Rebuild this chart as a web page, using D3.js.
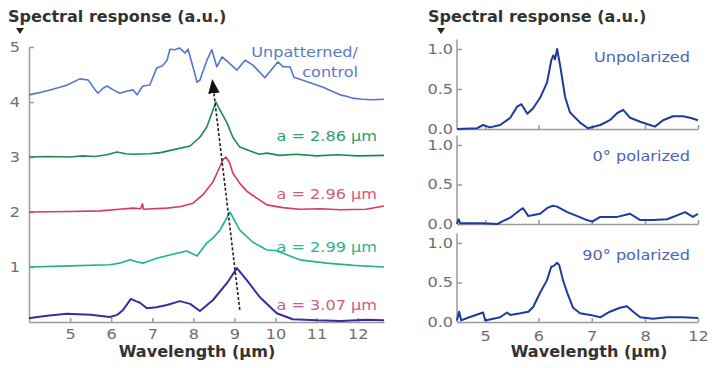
<!DOCTYPE html>
<html lang="en">
<head>
<meta charset="utf-8">
<title>Spectral response</title>
<script src="https://d3js.org/d3.v7.min.js"></script>
<style type="text/css">
  body { margin: 0; background: white; }
  .tick text { font-family: "DejaVu Sans", sans-serif; font-size: 14px; fill: #6e6e6e; }
  .tick line, .domain { stroke: #9a9a9a; stroke-width: 1.5; }
  .title { font-family: "DejaVu Sans", sans-serif; font-weight: bold; font-size: 15px; fill: #333; }
  .lbl { font-family: "DejaVu Sans", sans-serif; font-size: 14px; }
</style>
</head>
<body>
<script type="text/javascript">
    // left panel: offset spectra, data in (wavelength um, response a.u.)
    var unpatterned = [[4.0,4.13],[4.25,4.17],[4.51,4.22],[4.9,4.3],[5.24,4.42],[5.44,4.40],[5.61,4.22],[5.68,4.16],[5.80,4.25],[5.90,4.29],[6.05,4.22],[6.21,4.16],[6.4,4.2],[6.53,4.22],[6.63,4.13],[6.77,4.29],[6.94,4.31],[7.11,4.62],[7.25,4.66],[7.36,4.76],[7.43,4.96],[7.55,4.95],[7.67,4.98],[7.80,4.89],[7.87,4.96],[7.99,4.64],[8.09,4.36],[8.16,4.40],[8.33,4.76],[8.45,4.95],[8.57,4.64],[8.70,4.82],[8.84,4.73],[9.06,4.58],[9.26,4.76],[9.45,4.67],[9.74,4.44],[9.86,4.55],[10.06,4.73],[10.18,4.64],[10.35,4.64],[10.45,4.45],[10.84,4.35],[11.16,4.27],[11.57,4.13],[11.75,4.1],[11.88,4.07],[12.1,4.05],[12.37,4.04],[12.64,4.05]];
    var a286 = [[4.0,3.0],[4.5,3.01],[5.0,3.0],[5.3,3.02],[5.6,3.01],[5.9,3.04],[6.14,3.09],[6.35,3.06],[6.53,3.05],[6.94,3.06],[7.2,3.08],[7.5,3.13],[7.92,3.2],[8.16,3.36],[8.33,3.55],[8.45,3.8],[8.55,4.0],[8.65,3.85],[8.82,3.62],[8.96,3.36],[9.13,3.18],[9.45,3.09],[9.6,3.05],[9.79,3.07],[10.1,3.03],[10.5,3.05],[11.0,3.02],[11.5,3.04],[12.0,3.02],[12.64,3.03]];
    var a296 = [[4.0,2.0],[5.0,2.01],[5.73,2.02],[6.2,2.05],[6.53,2.07],[6.72,2.06],[6.76,2.15],[6.79,2.05],[7.36,2.07],[7.7,2.1],[7.99,2.16],[8.23,2.31],[8.48,2.55],[8.6,2.75],[8.72,2.95],[8.79,3.0],[8.88,2.9],[8.96,2.71],[9.13,2.52],[9.3,2.38],[9.45,2.3],[9.79,2.13],[10.18,2.08],[10.59,2.05],[11.1,2.06],[11.57,2.04],[12.2,2.05],[12.64,2.11]];
    var a299 = [[4.0,1.0],[5.0,1.02],[5.97,1.04],[6.2,1.07],[6.46,1.13],[6.6,1.1],[6.77,1.07],[7.11,1.16],[7.6,1.25],[7.84,1.29],[8.09,1.2],[8.33,1.44],[8.48,1.53],[8.65,1.67],[8.89,2.0],[9.13,1.67],[9.45,1.45],[9.79,1.31],[10.0,1.3],[10.18,1.25],[10.59,1.13],[11.25,1.07],[11.9,1.03],[12.64,1.0]];
    var a307 = [[4.0,0.07],[4.2,0.09],[4.5,0.12],[4.92,0.15],[5.2,0.14],[5.5,0.13],[5.97,0.09],[6.15,0.13],[6.29,0.22],[6.48,0.42],[6.6,0.38],[6.7,0.35],[6.87,0.25],[7.1,0.27],[7.36,0.31],[7.67,0.38],[7.92,0.33],[8.16,0.2],[8.48,0.4],[8.82,0.71],[9.06,0.98],[9.3,0.76],[9.62,0.45],[10.03,0.16],[10.42,0.05],[11.0,0.03],[11.6,0.02],[12.2,0.04],[12.64,0.03]];
    var shiftArrow = [[9.13,0.22],[8.48,4.29]];
    var leftYTicks = [1, 2, 3, 4, 5];
    var leftXTicks = [5, 6, 7, 8, 9, 10, 11, 12];

    // right panel: three polarizations, normalized
    var rightSeries = ["Unpolarized", "0\u00b0 polarized", "90\u00b0 polarized"];
    var unpol = [[4.47,0.0],[4.85,0.01],[4.96,0.05],[5.09,0.02],[5.28,0.05],[5.47,0.14],[5.6,0.28],[5.68,0.31],[5.79,0.19],[5.9,0.26],[6.03,0.39],[6.16,0.58],[6.24,0.86],[6.28,0.92],[6.31,0.87],[6.35,1.0],[6.41,0.78],[6.5,0.4],[6.59,0.21],[6.78,0.08],[6.93,0.01],[7.16,0.05],[7.34,0.11],[7.48,0.2],[7.59,0.24],[7.72,0.14],[7.91,0.09],[8.38,0.05],[8.75,0.03],[9.36,0.11],[10.11,0.16],[10.87,0.16],[11.4,0.14],[12.0,0.11]];
    var pol0 = [[4.47,0.0],[4.5,0.06],[4.53,0.01],[4.96,0.01],[5.23,0.0],[5.34,0.04],[5.47,0.08],[5.66,0.18],[5.71,0.2],[5.81,0.1],[6.03,0.13],[6.16,0.2],[6.26,0.23],[6.35,0.22],[6.54,0.15],[6.73,0.1],[6.91,0.05],[7.01,0.03],[7.16,0.09],[7.48,0.09],[7.72,0.13],[7.91,0.05],[8.6,0.05],[9.66,0.06],[10.42,0.11],[11.02,0.15],[11.62,0.09],[12.0,0.13]];
    var pol90 = [[4.47,0.02],[4.51,0.13],[4.55,0.02],[4.66,0.05],[4.96,0.12],[5.0,0.02],[5.28,0.06],[5.41,0.12],[5.47,0.09],[5.66,0.11],[5.81,0.13],[5.9,0.19],[6.03,0.37],[6.16,0.53],[6.24,0.7],[6.29,0.71],[6.35,0.75],[6.39,0.72],[6.46,0.53],[6.54,0.37],[6.65,0.18],[6.78,0.11],[6.97,0.09],[7.16,0.06],[7.34,0.13],[7.53,0.18],[7.66,0.2],[7.78,0.13],[7.91,0.06],[8.6,0.04],[9.66,0.06],[10.87,0.06],[12.0,0.05]];
    var rightYTicks = [0, 0.5, 1.0];
    var rightXTicks = [5, 6, 7, 8, 12];

    var w = 720, h = 368;
    var svg = d3.select("body").append("svg")
        .attr("width", w)
        .attr("height", h);

    svg.append("defs").append("marker")
        .attr("id", "head")
        .attr("viewBox", "0 0 10 10")
        .attr("refX", 5).attr("refY", 5)
        .attr("markerWidth", 9).attr("markerHeight", 9)
        .attr("orient", "auto")
      .append("path")
        .attr("d", "M0,1 L10,5 L0,9 Z")
        .attr("fill", "#111");

    // ---------- left panel ----------
    var xL = d3.scaleLinear().domain([4, 12.64]).range([29, 384]);
    var yL = d3.scaleLinear().domain([0, 5]).range([322, 47]);

    svg.append("g")
        .attr("transform", "translate(0,322)")
        .call(d3.axisBottom(xL).tickValues(leftXTicks).tickSize(-4).tickSizeOuter(0).tickPadding(7));
    svg.append("g")
        .attr("transform", "translate(29,0)")
        .call(d3.axisLeft(yL).tickValues(leftYTicks).tickFormat(d3.format("d")).tickSize(-5).tickSizeOuter(0).tickPadding(9));

    var lineL = d3.line().x(function(d) { return xL(d[0]); }).y(function(d) { return yL(d[1]); });
    var leftData = [unpatterned, a286, a296, a299, a307];
    var leftColors = ["#5676cc", "#1c8c4e", "#d8395c", "#1fb28c", "#3a2c9c"];
    svg.selectAll("path.left")
        .data(leftData)
        .enter()
        .append("path")
        .attr("class", "left")
        .attr("d", lineL)
        .attr("fill", "none")
        .attr("stroke", function(d, i) { return leftColors[i]; })
        .attr("stroke-width", function(d, i) { return i == 4 ? 2 : 1.6; })
        .attr("stroke-linejoin", "round");

    svg.append("path")
        .attr("d", lineL(shiftArrow))
        .attr("stroke", "#222")
        .attr("stroke-width", 1.6)
        .attr("stroke-dasharray", "3,2")
        .attr("marker-end", "url(#head)");

    var leftLabels = [
        {t: "Unpatterned/", y: 57, c: "#5a7ac8"},
        {t: "control", y: 77, c: "#5a7ac8"},
        {t: "a = 2.86 \u00b5m", y: 141, c: "#2aa070"},
        {t: "a = 2.96 \u00b5m", y: 199, c: "#d65a7a"},
        {t: "a = 2.99 \u00b5m", y: 252, c: "#2ab592"},
        {t: "a = 3.07 \u00b5m", y: 310, c: "#d0588a"}
    ];
    svg.selectAll("text.llbl")
        .data(leftLabels)
        .enter()
        .append("text")
        .attr("class", "lbl llbl")
        .attr("x", function(d, i) { return i < 2 ? 358 : 377; })
        .attr("y", function(d) { return d.y; })
        .attr("text-anchor", "end")
        .attr("fill", function(d) { return d.c; })
        .text(function(d) { return d.t; });

    // ---------- right panel ----------
    // axis is compressed beyond 8 um, as in the original figure
    var xR = d3.scaleLinear().domain([4.47, 8, 12]).range([457, 645, 698]);
    var panels = [
        {data: unpol, y0: 129, y1: 49},
        {data: pol0, y0: 224, y1: 145},
        {data: pol90, y0: 322, y1: 243}
    ];
    var labY = [62, 161, 260];

    panels.forEach(function(p, i) {
        var yR = d3.scaleLinear().domain([0, 1]).range([p.y0, p.y1]);
        var topV = 1.12;
        svg.append("line")
            .attr("x1", 457).attr("x2", 457)
            .attr("y1", yR(0)).attr("y2", yR(topV))
            .attr("stroke", "#9a9a9a").attr("stroke-width", 1.5);
        var gy = svg.append("g")
            .attr("transform", "translate(457,0)")
            .call(d3.axisLeft(yR).tickValues(rightYTicks).tickFormat(d3.format(".1f"))
                .tickSize(-5).tickSizeOuter(0).tickPadding(4));
        gy.select(".domain").remove();
        var gx = svg.append("g")
            .attr("transform", "translate(0," + p.y0 + ")")
            .call(d3.axisBottom(xR).tickValues(rightXTicks).tickSize(-4).tickSizeOuter(0).tickPadding(9));
        if (i < 2) gx.selectAll("text").remove();

        var lineR = d3.line().x(function(d) { return xR(d[0]); }).y(function(d) { return yR(d[1]); });
        svg.append("path")
            .attr("d", lineR(p.data))
            .attr("fill", "none")
            .attr("stroke", "#1f3a9c")
            .attr("stroke-width", 2)
            .attr("stroke-linejoin", "round");

        svg.append("text")
            .attr("class", "lbl")
            .attr("x", 690).attr("y", labY[i])
            .attr("text-anchor", "end")
            .attr("fill", "#4a66b8")
            .text(rightSeries[i]);
    });

    // ---------- titles ----------
    var titles = [{x: 8, tx: 20}, {x: 428, tx: 441}];
    titles.forEach(function(t) {
        svg.append("text").attr("class", "title")
            .attr("x", t.x).attr("y", 22)
            .text("Spectral response (a.u.)");
        svg.append("path")
            .attr("d", "M" + (t.tx - 4) + ",28 L" + (t.tx + 4) + ",28 L" + t.tx + ",34 Z")
            .attr("fill", "#222");
    });
    svg.append("text").attr("class", "title")
        .attr("x", 197).attr("y", 357).attr("text-anchor", "middle")
        .text("Wavelength (\u00b5m)");
    svg.append("text").attr("class", "title")
        .attr("x", 589).attr("y", 357).attr("text-anchor", "middle")
        .text("Wavelength (\u00b5m)");

    // the original artwork is a little wider than tall; stretch text to match
    svg.selectAll("text").each(function() {
        var k = d3.select(this).classed("title") ? 1.07 : 1.15;
        var len = this.getComputedTextLength();
        d3.select(this).attr("textLength", len * k).attr("lengthAdjust", "spacingAndGlyphs");
    });
</script>
</body>
</html>
